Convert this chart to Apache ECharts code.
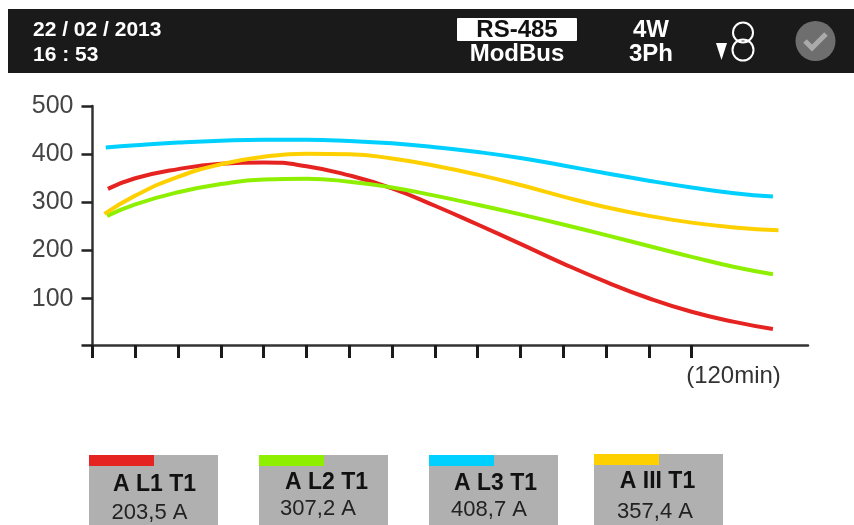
<!DOCTYPE html>
<html><head><meta charset="utf-8">
<script src="https://cdn.jsdelivr.net/npm/echarts@6/dist/echarts.min.js"></script>
<style>html,body{margin:0;padding:0;background:#fff}#c{width:854px;height:525px}</style>
</head><body><div id="c"></div>
<script>
const tickPositions = [0,1,2,3,4,5,6,7,8,9,10,11,12,13,14];
const yTickValues = [4,100,200,300,400,500];
const yLabelValues = [100,200,300,400,500];
const positionsL1 = [0.36,1,2,3,4,5,6,7,8,9,10,11,12,13,14,15,15.9];
const positionsL2 = [0.34,1,2,3,4,5,6,7,8,9,10,11,12,13,14,15,15.9];
const positionsL3 = [0.31,1,2,3,4,5,6,7,8,9,10,11,12,13,14,15,15.9];
const positionsAvg = [0.28,1,2,3,4,5,6,7,8,9,10,11,12,13,14,15,16.03];
const valuesL1 = [328,350,369,380,383,375,356,329,293,254,214,173,135,101,73,52,37];
const valuesL2 = [272,296,321,338,347.5,349,343,331,314,295,275,254,232,209.5,187,166,151];
const valuesL3 = [414,418.5,424,428,430,430,427.5,422.5,414.5,404.5,392,376.5,360.5,345,331,319,312];
const valuesAvg = [276,314,353,379,394.5,401,400,391,376,357.5,336,312,290,272,258,248,242];
const seriesNames = ['A L1 T1','A L2 T1','A L3 T1','A III T1'];
const readings = ['203,5 A','307,2 A','408,7 A','357,4 A'];
const colors = ['#e52421','#8ef000','#00d0ff','#ffd000'];

const toPts = (xs, ys) => xs.map((x,i)=>[x,ys[i]]);
const font = 'Arial, "Liberation Sans", sans-serif';
const line = (name, xs, ys, color) => ({name, type:'line', smooth:0.5, showSymbol:false, silent:true,
  data:toPts(xs,ys), lineStyle:{color, width:4, cap:'butt'}});

const head = (x,y,text,fill,size,align) => ({type:'text', style:{x,y,text,fill,font:'bold '+size+'px '+font,align:align||'center',verticalAlign:'middle'}});
const graphics = [
  {type:'rect', shape:{x:8,y:9,width:846,height:64}, style:{fill:'#1a1a1a'}},
  head(33,30,'22 / 02 / 2013','#fff',21,'left'),
  head(33,55,'16 : 53','#fff',21,'left'),
  {type:'rect', shape:{x:457,y:18,width:120,height:23,r:1}, style:{fill:'#fff'}},
  head(517,30,'RS-485','#111',24),
  head(517,54,'ModBus','#fff',24),
  head(651,30,'4W','#fff',24),
  head(651,54,'3Ph','#fff',24),
  {type:'circle', shape:{cx:743,cy:32.5,r:10}, style:{fill:'none',stroke:'#fff',lineWidth:2}},
  {type:'circle', shape:{cx:743,cy:50,r:10.5}, style:{fill:'none',stroke:'#fff',lineWidth:2}},
  {type:'polygon', shape:{points:[[716,43],[727,43],[721.5,60]]}, style:{fill:'#fff'}},
  {type:'circle', shape:{cx:815.5,cy:41,r:20}, style:{fill:'#6e6e6e'}},
  {type:'polyline', shape:{points:[[805,41],[812,48],[826,34]]}, style:{fill:'none',stroke:'#aaaaaa',lineWidth:5}},
  {type:'text', style:{x:733.5,y:376,text:'(120min)',fill:'#333',font:'24px '+font,align:'center',verticalAlign:'middle'}}
];
const boxes = [[89,455,154.5,485,149.5,513],[259,455,326.5,483,318,509],[429,455,495.5,484,489,510],[594,454,657.5,482,655,512]];
boxes.forEach((b,i)=>{
  graphics.push({type:'rect', shape:{x:b[0],y:b[1],width:129,height:525-b[1]}, style:{fill:'#b0b0b0'}});
  graphics.push({type:'rect', shape:{x:b[0],y:b[1],width:65,height:11}, style:{fill:colors[i]}});
  graphics.push({type:'text', style:{x:b[2],y:b[3],text:seriesNames[i],fill:'#111',font:'bold 23px '+font,align:'center',verticalAlign:'middle'}});
  graphics.push({type:'text', style:{x:b[4],y:b[5],text:readings[i],fill:'#222',font:'22px '+font,align:'center',verticalAlign:'middle'}});
});

echarts.init(document.getElementById('c'),null,{renderer:'canvas'}).setOption({
  animation:false,
  grid:{left:92.5,top:106,width:715.5,height:239},
  xAxis:{type:'value',min:0,max:16.72,
    axisLine:{show:true,onZero:false,lineStyle:{color:'#333',width:2.5}},
    axisTick:{show:true,length:13,customValues:tickPositions,lineStyle:{color:'#1a1a1a',width:3}},
    axisLabel:{show:false},splitLine:{show:false}},
  yAxis:{type:'value',min:4,max:500,
    axisLine:{show:true,lineStyle:{color:'#333',width:2.5}},
    axisTick:{show:true,length:11,customValues:yTickValues,lineStyle:{color:'#222',width:2.5}},
    axisLabel:{color:'#444',fontSize:25,fontFamily:font,margin:19,customValues:yLabelValues},
    splitLine:{show:false}},
  series:[
    line(seriesNames[0],positionsL1,valuesL1,colors[0]),
    line(seriesNames[1],positionsL2,valuesL2,colors[1]),
    line(seriesNames[2],positionsL3,valuesL3,colors[2]),
    line(seriesNames[3],positionsAvg,valuesAvg,colors[3])
  ],
  graphic:graphics
});
</script></body></html>
